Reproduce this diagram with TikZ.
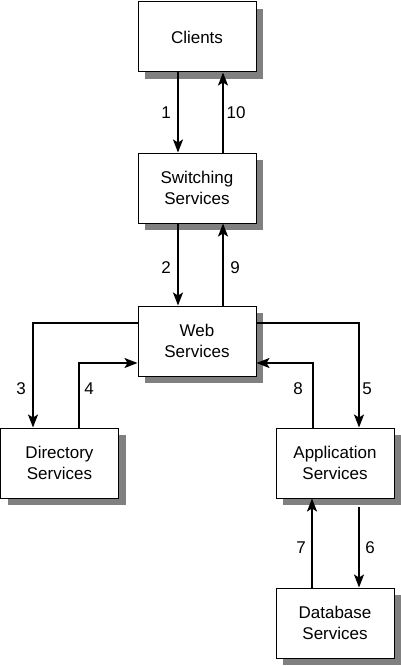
\documentclass[tikz,border=0pt]{standalone}
\usepackage{fontspec}
\setmainfont{Liberation Sans}
\usetikzlibrary{arrows.meta,shadows}
\begin{document}
\begin{tikzpicture}[x=1pt,y=-1pt,
  box/.style={draw=black,line width=1pt,fill=white,minimum width=118pt,minimum height=70pt,
    align=center,inner sep=0pt,font=\fontsize{17}{21}\selectfont,
    drop shadow={shadow xshift=7pt,shadow yshift=-7pt,fill=black!50,opacity=1}},
  arr/.style={line width=1.6pt,-{Stealth[length=13pt,width=10pt,inset=3pt]}},
  lbl/.style={font=\fontsize{17}{21}\selectfont,inner sep=0pt}]
\useasboundingbox (0,0) rectangle (400,666);
\node[box] (cl) at (197,37) {Clients};
\node[box] (sw) at (197,188) {Switching\\Services};
\node[box] (web) at (197,341) {Web\\Services};
\node[box] (dir) at (59.5,463) {Directory\\Services};
\node[box] (app) at (335,463) {Application\\Services};
\node[box] (db) at (335,623) {Database\\Services};
% arrows
\draw[arr] ([xshift=-19pt]cl.south) -- ([xshift=-19pt]sw.north);
\draw[arr] ([xshift=26pt]sw.north) -- ([xshift=26pt]cl.south);
\draw[arr] ([xshift=-19pt]sw.south) -- ([xshift=-19pt]web.north);
\draw[arr] ([xshift=26pt]web.north) -- ([xshift=26pt]sw.south);
\draw[arr] ([yshift=18pt]web.west) -| ([xshift=-26.5pt]dir.north);
\draw[arr] ([xshift=19.5pt]dir.north) |- ([yshift=-22pt]web.west);
\draw[arr] ([yshift=18pt]web.east) -| ([xshift=24pt]app.north);
\draw[arr] ([xshift=-22pt]app.north) |- ([yshift=-22pt]web.east);
\draw[arr] ([xshift=24pt,yshift=-8pt]app.south) -- ([xshift=24pt]db.north);
\draw[arr] ([xshift=-23pt]db.north) -- ([xshift=-23pt]app.south);
% labels
\node[lbl] (l1) at (166,113) {1};
\node[lbl] (l10) at (236,113) {10};
\node[lbl] (l2) at (166,268) {2};
\node[lbl] (l9) at (235,268) {9};
\node[lbl] (l3) at (21,389) {3};
\node[lbl] (l4) at (89,389) {4};
\node[lbl] (l8) at (298,389) {8};
\node[lbl] (l5) at (367,389) {5};
\node[lbl] (l7) at (301,548) {7};
\node[lbl] (l6) at (370,548) {6};
\end{tikzpicture}
\end{document}
